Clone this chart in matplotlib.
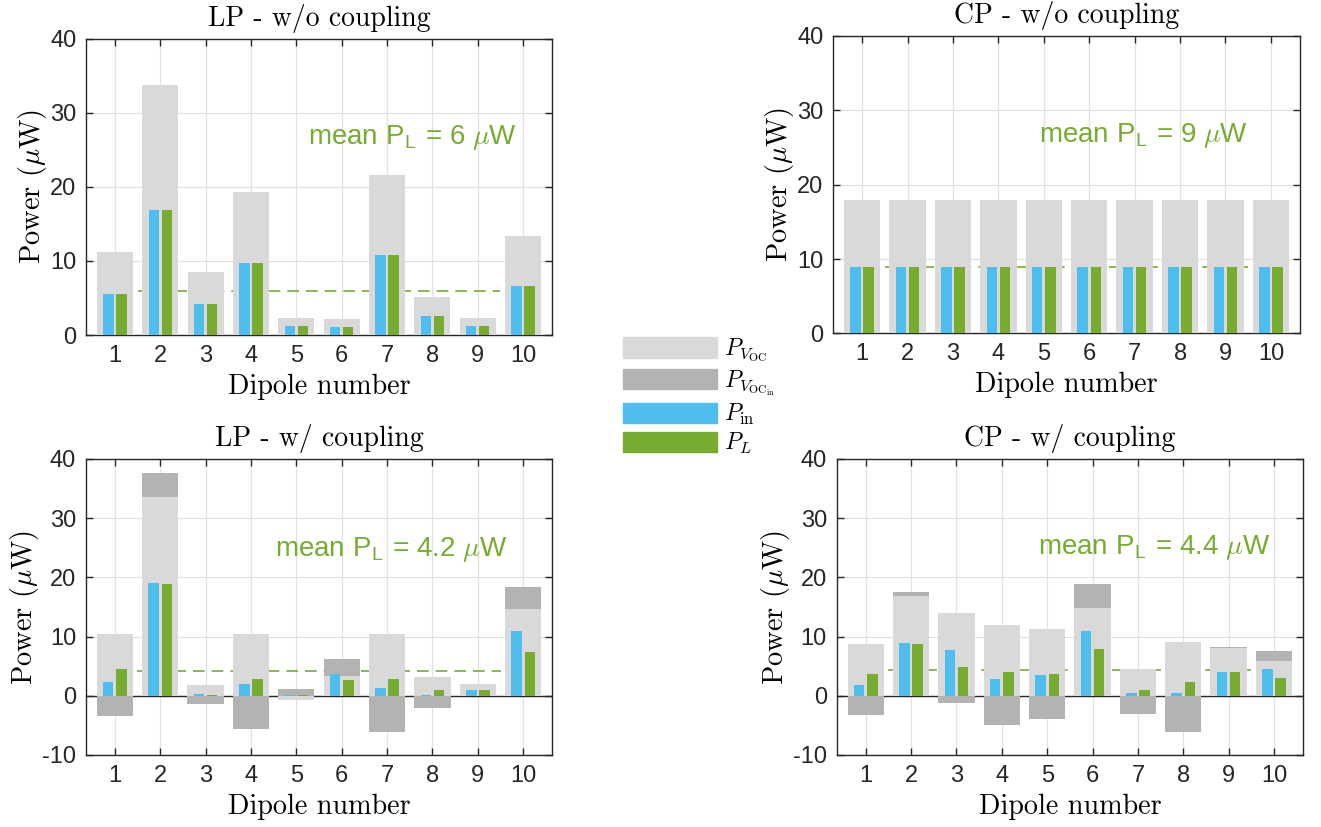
import numpy as np
import matplotlib
matplotlib.use("Agg")
import matplotlib.pyplot as plt
from matplotlib.patches import Patch

# dipole index
dipoles = np.arange(1, 11)

# LP - without coupling
lp_wo_voc = [11.2, 33.7, 8.5, 19.3, 2.35, 2.2, 21.6, 5.1, 2.35, 13.3]
lp_wo_vocin = [11.2, 33.7, 8.5, 19.3, 2.35, 2.2, 21.6, 5.1, 2.35, 13.3]
lp_wo_pin = [5.6, 16.85, 4.25, 9.65, 1.15, 1.1, 10.8, 2.55, 1.15, 6.65]
lp_wo_pl = [5.6, 16.85, 4.25, 9.65, 1.15, 1.1, 10.8, 2.55, 1.15, 6.65]

# CP - without coupling
cp_wo_voc = [18.0] * 10
cp_wo_vocin = [18.0] * 10
cp_wo_pin = [9.0] * 10
cp_wo_pl = [9.0] * 10

# LP - with coupling
lp_w_voc = [10.4, 33.5, 1.9, 10.5, -0.7, 3.3, 10.4, 3.15, 2.0, 14.6]
lp_w_vocin = [-3.4, 37.7, -1.4, -5.6, 1.1, 6.2, -6.2, -2.1, 1.0, 18.3]
lp_w_pin = [2.3, 19.0, 0.22, 2.0, 0.17, 3.6, 1.35, 0.1, 0.95, 10.9]
lp_w_pl = [4.6, 18.8, 0.12, 2.9, 0.17, 2.6, 2.8, 0.95, 0.95, 7.4]

# CP - with coupling
cp_w_voc = [8.8, 16.8, 13.9, 11.9, 11.2, 14.8, 4.55, 9.0, 8.0, 5.85]
cp_w_vocin = [-3.3, 17.6, -1.25, -4.9, -4.0, 18.9, -3.0, -6.2, 8.25, 7.5]
cp_w_pin = [1.85, 8.9, 7.75, 2.85, 3.45, 10.95, 0.5, 0.4, 4.1, 4.45]
cp_w_pl = [3.7, 8.7, 4.9, 4.1, 3.75, 7.9, 1.05, 2.4, 4.1, 3.0]

mean_pl = [6, 9, 4.2, 4.4]
titles = ["LP - w/o coupling", "CP - w/o coupling",
          "LP - w/ coupling", "CP - w/ coupling"]

c_voc = "#d9d9d9"
c_vocin = "#b3b3b3"
c_pin = "#4dbeee"
c_pl = "#77ac30"
c_axis = "#262626"

plt.rcParams["mathtext.fontset"] = "cm"
plt.rcParams["axes.unicode_minus"] = False
plt.rcParams["font.family"] = ["Liberation Sans", "DejaVu Sans"]

fig = plt.figure(figsize=(13.21, 8.27), dpi=100)

# axes rectangles, figure fractions
rects = [
    [0.0651, 0.5949, 0.3528, 0.3585],
    [0.6306, 0.5968, 0.3535, 0.3597],
    [0.0649, 0.0871, 0.3532, 0.3579],
    [0.6334, 0.0871, 0.3530, 0.3579],
]
panels = [
    (lp_wo_voc, lp_wo_vocin, lp_wo_pin, lp_wo_pl, (0, 40)),
    (cp_wo_voc, cp_wo_vocin, cp_wo_pin, cp_wo_pl, (0, 40)),
    (lp_w_voc, lp_w_vocin, lp_w_pin, lp_w_pl, (-10, 40)),
    (cp_w_voc, cp_w_vocin, cp_w_pin, cp_w_pl, (-10, 40)),
]
text_pos = [(5.26, 26.6), (4.89, 26.6), (4.53, 24.7), (4.8, 25.0)]

for i, (voc, vocin, pin, pl, ylim) in enumerate(panels):
    ax = fig.add_axes(rects[i])
    ax.set_axisbelow(True)
    ax.grid(True, color="#e0e0e0", lw=0.9)

    ax.bar(dipoles, vocin, width=0.8, color=c_vocin, zorder=3)
    ax.bar(dipoles, voc, width=0.8, color=c_voc, zorder=3)
    ax.bar(dipoles - 0.145, pin, width=0.23, color=c_pin, zorder=4)
    ax.bar(dipoles + 0.145, pl, width=0.23, color=c_pl, zorder=4)
    if ylim[0] < 0:
        ax.axhline(0, color=c_axis, lw=1.0, zorder=2)

    ax.plot([1.5, 9.5], [mean_pl[i]] * 2, color=c_pl, lw=1.2,
            dashes=(7, 4.2), zorder=2.5)
    tx, ty = text_pos[i]
    ax.text(tx, ty, r"mean P$_\mathregular{L}$ = %g $\mu$W" % mean_pl[i],
            color=c_pl, fontsize=20, ha="left", va="center", zorder=6)

    ax.set_xlim(0.36, 10.64)
    ax.set_ylim(*ylim)
    ax.set_xticks(dipoles)
    ax.set_yticks(np.arange(ylim[0], 41, 10))
    ax.tick_params(direction="in", top=True, right=True, length=5,
                   width=1.0, color=c_axis, labelcolor=c_axis,
                   labelsize=17, pad=7)
    for sp in ax.spines.values():
        sp.set_color(c_axis)
        sp.set_linewidth(1.0)

    ax.set_title(titles[i], fontfamily="cmr10", fontsize=20, pad=9)
    ax.set_xlabel("Dipole number", fontfamily="cmr10", fontsize=20.3,
                  labelpad=5)
    ax.set_ylabel(r"Power ($\mu$W)", fontfamily="cmr10", fontsize=20.5,
                  labelpad=1)

handles = [Patch(color=c_voc), Patch(color=c_vocin),
           Patch(color=c_pin), Patch(color=c_pl)]
labels = [r"$P_{V_\mathrm{OC}}$", r"$P_{V_{\mathrm{OC}_\mathrm{in}}}$",
          r"$P_\mathrm{in}$", r"$P_L$"]
fig.legend(handles, labels, loc="upper left",
           bbox_to_anchor=(0.4718, 0.5925), frameon=False, fontsize=17,
           handlelength=3.95, handleheight=0.95, handletextpad=0.3,
           labelspacing=0.17, borderpad=0, borderaxespad=0)

fig.savefig("out.png", dpi=100)
